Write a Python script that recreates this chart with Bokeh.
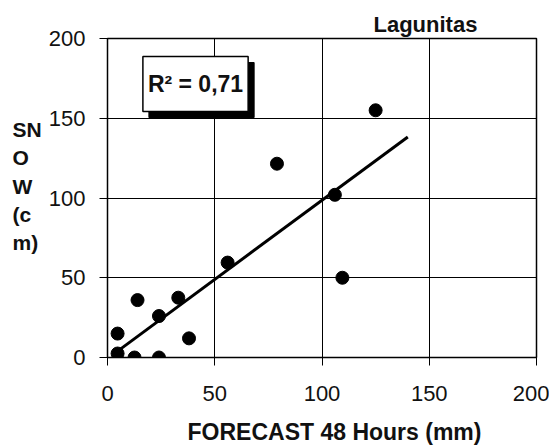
import numpy as np
from bokeh.plotting import figure
from bokeh.models import Label, FixedTicker, Range1d
from bokeh.layouts import row, column
from bokeh.embed import file_html
from bokeh.resources import INLINE

# Data
forecast_mm = [4.7, 4.7, 12.6, 24, 14, 24, 33, 38, 56, 79, 106, 109.5, 125]
snow_cm = [15, 2.5, 0, 0, 36, 26, 37.5, 12, 59.5, 121.5, 102, 50, 155]
trend_x_extent = [6, 140]
tick_values = [0, 50, 100, 150, 200]
title_text = "Lagunitas"
x_label_text = "FORECAST 48 Hours (mm)"
y_label_text = "SN\nO\nW\n(c\nm)"
r2_text = "R\u00b2 = 0,71"

FONT = "Liberation Sans"
TXT = "#111111"
W_TOTAL = 549
H_MAIN = 415
H_BOTTOM = 32
LABEL_W = 45


def text_panel(width, height):
    f = figure(width=width, height=height, output_backend="svg", toolbar_location=None,
               x_range=Range1d(0, width), y_range=Range1d(height, 0),
               x_axis_type=None, y_axis_type=None,
               min_border_left=0, min_border_right=0, min_border_top=0, min_border_bottom=0)
    f.outline_line_color = None
    f.grid.visible = False
    f.background_fill_color = "white"
    f.border_fill_color = "white"
    return f


# Narrow panel that holds the stacked y-axis label
lab = text_panel(LABEL_W, H_MAIN)
lab.add_layout(Label(x=12, y=104, text=y_label_text, text_font=FONT, text_font_size="21px",
                     text_font_style="bold", text_align="left", text_baseline="top",
                     text_line_height=1.22, text_color=TXT))

# Bottom panel that holds the x-axis label
bot = text_panel(W_TOTAL, H_BOTTOM)
bot.add_layout(Label(x=334, y=16, text=x_label_text, text_font=FONT, text_font_size="23px",
                     text_font_style="bold", text_align="center", text_baseline="middle",
                     text_color=TXT))

p = figure(width=W_TOTAL - LABEL_W, height=H_MAIN, output_backend="svg", toolbar_location=None,
           x_range=Range1d(0, 200), y_range=Range1d(0, 200),
           min_border_left=107 - LABEL_W, min_border_right=13, min_border_top=38,
           min_border_bottom=H_MAIN - 357)
p.background_fill_color = "white"
p.border_fill_color = "white"
p.outline_line_color = "black"
p.outline_line_width = 1.5

for ax in (p.xaxis[0], p.yaxis[0]):
    ax.ticker = FixedTicker(ticks=tick_values)
    ax.major_tick_out = 8
    ax.major_tick_in = 0
    ax.minor_tick_line_color = None
    ax.axis_line_color = "black"
    ax.major_tick_line_color = "black"
    ax.major_label_text_font = FONT
    ax.major_label_text_font_size = "22px"
    ax.major_label_text_color = TXT
p.xaxis.major_label_standoff = 20
p.yaxis.major_label_standoff = 14

p.xgrid.ticker = FixedTicker(ticks=tick_values)
p.ygrid.ticker = FixedTicker(ticks=tick_values)
p.xgrid.grid_line_color = "black"
p.ygrid.grid_line_color = "black"
p.xgrid.grid_line_width = 1
p.ygrid.grid_line_width = 1

# Title
p.title.text = title_text
p.title.align = "left"
p.title.offset = 266
p.title.text_font = FONT
p.title.text_font_size = "22px"
p.title.text_font_style = "bold"
p.title.text_color = TXT
p.title.standoff = 3

# Trend line (least squares fit of the data)
slope, intercept = np.polyfit(forecast_mm, snow_cm, 1)
tx = np.array(trend_x_extent, dtype=float)
p.line(tx, slope * tx + intercept, line_color="black", line_width=3)

p.scatter(forecast_mm, snow_cm, size=13, fill_color="black", line_color="black")

# R^2 box with shadow
pad = dict(left=5, right=5, top=14, bottom=15)
p.add_layout(Label(x=16.5, y=188.7, x_offset=6, y_offset=-6, text=r2_text, text_font=FONT,
                   text_font_size="23px", text_font_style="bold", text_align="left",
                   text_baseline="top", text_color="black", background_fill_color="black",
                   border_line_color="black", padding=pad))
p.add_layout(Label(x=16.5, y=188.7, text=r2_text, text_font=FONT,
                   text_font_size="23px", text_font_style="bold", text_align="left",
                   text_baseline="top", text_color=TXT, background_fill_color="white",
                   border_line_color="black", border_line_width=1.5, padding=pad))

layout = column(row(lab, p), bot)
open("out.html", "w").write(file_html(layout, INLINE))
